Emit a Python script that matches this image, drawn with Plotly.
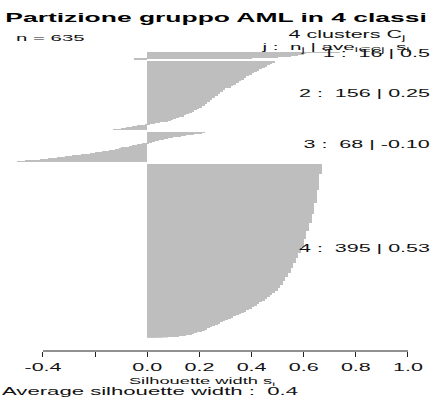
import numpy as np
import plotly.graph_objects as go

# ---- data: silhouette widths per cluster (sorted decreasingly) ----
cluster_ids = [1, 2, 3, 4]
cluster_avg_text = ["0.5", "0.25", "-0.10", "0.53"]
overall_avg_text = "0.4"

# cluster 1: value / number of observations
c1_values = [0.74, 0.62, 0.61, 0.60, 0.59, 0.58, 0.57, 0.56, 0.55, 0.53, 0.50, 0.46, 0.40, 0.20, -0.05]
c1_counts = [1, 1, 1, 2, 1, 1, 1, 1, 1, 1, 1, 1, 1, 1, 1]

# cluster 2: value / number of observations
c2_values = [0.49, 0.48, 0.47, 0.46, 0.45, 0.44, 0.43, 0.42, 0.41, 0.40, 0.39, 0.38, 0.37, 0.36,
             0.35, 0.34, 0.33, 0.32, 0.30, 0.29, 0.28, 0.27, 0.26, 0.25, 0.24, 0.23, 0.22, 0.21,
             0.20, 0.19, 0.18, 0.17, 0.16, 0.15, 0.14, 0.13, 0.12, 0.11, 0.10, 0.09, 0.08, 0.07,
             0.06, 0.05, 0.04, 0.03, 0.02, 0.01, -0.005, -0.01, -0.02, -0.03, -0.04, -0.05, -0.06,
             -0.07, -0.08, -0.09, -0.10, -0.115, -0.13]
c2_counts = [2, 3, 3, 3, 3, 3, 3, 3, 3, 4, 3, 4, 4, 3,
             4, 4, 4, 4, 4, 4, 5, 5, 5, 5, 4, 4, 5, 4,
             2, 3, 4, 2, 3, 3, 3, 1, 1, 3, 2, 3, 1, 1,
             1, 1, 1, 1, 1, 1, 1, 1, 1, 1, 1, 1, 1,
             1, 1, 1, 1, 1, 1]

# cluster 3: one value per observation
c3_values = [0.22, 0.21, 0.21, 0.20, 0.18, 0.165, 0.15, 0.14, 0.13, 0.12, 0.11, 0.10, 0.09,
             0.08, 0.07, 0.065, 0.06, 0.05, 0.045, 0.04, 0.03, 0.025, 0.02, 0.01, 0.005, 0.0,
             -0.01, -0.02, -0.03, -0.04, -0.05, -0.06, -0.065,
             -0.07, -0.08, -0.09, -0.10, -0.105, -0.11, -0.12, -0.125,
             -0.135, -0.145, -0.155, -0.165, -0.175, -0.19, -0.20,
             -0.21, -0.22, -0.23, -0.24, -0.255, -0.28, -0.29,
             -0.30, -0.315, -0.33, -0.345, -0.355, -0.37, -0.38, -0.39,
             -0.41, -0.44, -0.47, -0.49, -0.50]

# cluster 4: value / number of observations
c4_values = [0.67, 0.66, 0.65, 0.64, 0.63, 0.62, 0.61, 0.60, 0.59, 0.58, 0.57, 0.56, 0.55, 0.54,
             0.53, 0.52, 0.51, 0.50, 0.49, 0.48, 0.47, 0.46, 0.45, 0.44, 0.43, 0.42, 0.41, 0.40,
             0.39, 0.38, 0.37, 0.36, 0.35, 0.34, 0.33, 0.32, 0.31, 0.30, 0.29, 0.28, 0.27, 0.26,
             0.25, 0.24, 0.23, 0.22, 0.21, 0.20, 0.19, 0.18, 0.17, 0.16, 0.15, 0.14, 0.12, 0.10,
             0.08, 0.06, 0.04]
c4_counts = [22, 36, 30, 23, 21, 18, 18, 18, 14, 12, 11, 12, 11, 10,
             9, 8, 7, 6, 6, 5, 4, 4, 4, 4, 4, 4, 3, 3,
             4, 3, 3, 2, 3, 3, 3, 3, 3, 2, 2, 3, 3, 3,
             2, 3, 3, 3, 2, 1, 2, 2, 1, 2, 1, 1, 1, 1,
             1, 1, 1]

# labelled ticks (the -0.2 position carries a tick mark but no label)
tick_vals = [-0.4, 0.0, 0.2, 0.4, 0.6, 0.8, 1.0]
tick_text = ["-0.4", "0.0", "0.2", "0.4", "0.6", "0.8", "1.0"]
tick_step = 0.2

# ---- bar positions: clusters stacked top to bottom with a small gap ----
widths = [np.repeat(c1_values, c1_counts),
          np.repeat(c2_values, c2_counts),
          np.array(c3_values),
          np.repeat(c4_values, c4_counts)]
sizes = [len(w) for w in widths]
n_total = sum(sizes)

GAP = 5
positions, mids = [], []
start = 0
for w in widths:
    positions.append(start + np.arange(len(w)) + 0.5)
    mids.append(start + len(w) / 2)
    start += len(w) + GAP
y_extent = start - GAP

W, H = 440, 407
FONT = "Liberation Sans, Arial, Helvetica, sans-serif"
INK = "#111111"
TEXT_STRETCH = 2.15


def py(v):
    return 1 - v / H


def px(v):
    return v / W


fig = go.Figure(go.Bar(
    x=np.concatenate(widths),
    y=np.concatenate(positions),
    orientation="h",
    width=1,
    marker=dict(color="#bebebe", line=dict(width=0)),
    hoverinfo="skip",
))

axis_pos = py(351)
fig.update_layout(
    width=W, height=H, autosize=False,
    margin=dict(l=0, r=0, t=0, b=0),
    paper_bgcolor="white", plot_bgcolor="white",
    showlegend=False, bargap=0,
    font=dict(family=FONT, color=INK, size=10),
    xaxis=dict(range=[-0.5649, 1.1228], domain=[0, 1], anchor="free", position=axis_pos,
               tickvals=tick_vals, ticktext=tick_text, ticks="outside", ticklen=5,
               tickwidth=1, tickcolor="#222222", showline=False, showgrid=False,
               zeroline=False, tickfont=dict(size=10, family=FONT, color=INK),
               ticklabelstandoff=2,
               minor=dict(ticks="outside", ticklen=5, tickwidth=1, tickcolor="#222222",
                          tick0=0, dtick=tick_step, showgrid=False)),
    yaxis=dict(range=[y_extent, 0], domain=[py(337.5), py(51.5)], visible=False),
    shapes=[dict(type="line", xref="x", yref="paper", x0=tick_vals[0], x1=tick_vals[-1],
                 y0=axis_pos, y1=axis_pos, line=dict(color="#222222", width=1))],
)

ann = []
ann.append(dict(text="<b>Partizione gruppo AML in 4 classi</b>", xref="paper", yref="paper",
                x=px(216), y=py(18.5), xanchor="center", align="center", yanchor="middle",
                font=dict(size=12.3, family=FONT, color="#000000")))
ann.append(dict(text=f"n = {n_total}", xref="paper", yref="paper", x=px(15), y=py(37),
                xanchor="left", align="left", yanchor="middle", font=dict(size=9.5)))
ann.append(dict(text=f"{len(cluster_ids)} clusters C<sub>j</sub>", xref="paper", yref="paper",
                x=px(407), y=py(35.5), xanchor="right", align="right", yanchor="middle",
                font=dict(size=10)))
ann.append(dict(text="j :  n<sub>j</sub> | ave<sub>i∈Cj</sub>  s<sub>i</sub>", xref="paper",
                yref="paper", x=px(411), y=py(48), xanchor="right", align="right",
                yanchor="middle", font=dict(size=9.6)))
for cid, size, mid, avg in zip(cluster_ids, sizes, mids, cluster_avg_text):
    ann.append(dict(text=f"{cid} :  {size} | {avg}", xref="paper", yref="y", x=px(431), y=mid,
                    xanchor="right", align="right", yanchor="middle", yshift=2,
                    font=dict(size=10)))
ann.append(dict(text="Silhouette width s<sub>i</sub>", xref="paper", yref="paper",
                x=px(202), y=py(381.5), xanchor="center", align="center", yanchor="middle",
                font=dict(size=8.5)))
ann.append(dict(text=f"Average silhouette width :  {overall_avg_text}", xref="paper",
                yref="paper", x=px(1), y=py(391), xanchor="left", align="left",
                yanchor="middle", font=dict(size=10.3)))
for a in ann:
    a.update(showarrow=False, borderpad=0)
fig.update_layout(annotations=ann)

# widen every text element horizontally around its own anchor point
stretch_js = """
var gd = document.getElementById('{plot_id}');
gd.querySelectorAll('svg text').forEach(function (t) {
  var x = parseFloat(t.getAttribute('x')) || 0;
  var y = parseFloat(t.getAttribute('y')) || 0;
  var tr = t.getAttribute('transform') || '';
  t.setAttribute('transform', tr + ' translate(' + x + ',' + y + ') scale(%s,1) translate(' + (-x) + ',' + (-y) + ')');
});
""" % TEXT_STRETCH

fig.write_html("out.html", include_plotlyjs=True, post_script=stretch_js,
               config={"displayModeBar": False})
